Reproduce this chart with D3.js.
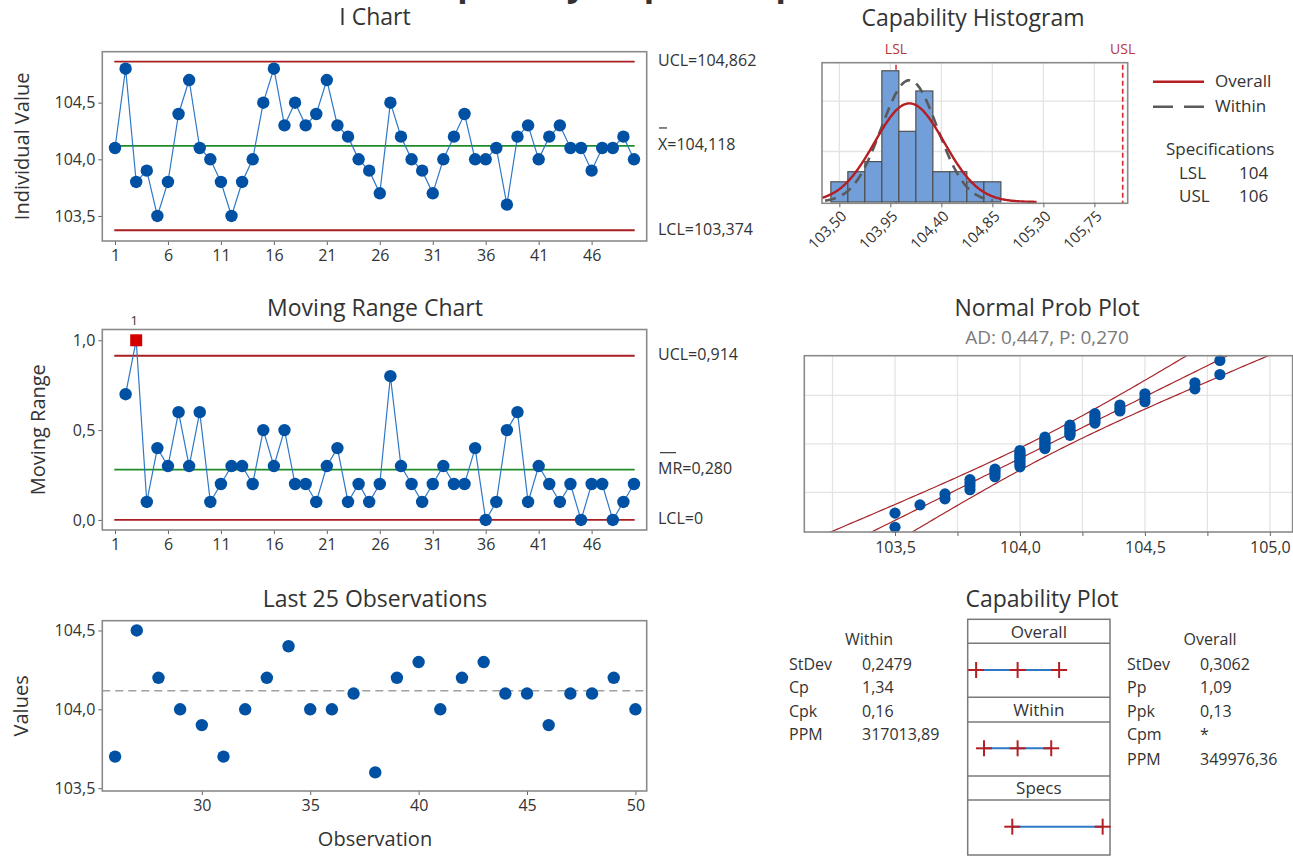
<!DOCTYPE html>
<html>
<head>
<meta charset="utf-8">
<script src="https://cdn.jsdelivr.net/npm/d3@7"></script>
<style>
  body { margin: 0; background: #fff; }
  text { font-family: "Open Sans", "Noto Sans", sans-serif; fill: #333; }
</style>
</head>
<body>
<svg id="chart" width="1293" height="857"></svg>
<script>
// ---- data ----
const individuals = [104.1, 104.8, 103.8, 103.9, 103.5, 103.8, 104.4, 104.7, 104.1, 104.0,
                     103.8, 103.5, 103.8, 104.0, 104.5, 104.8, 104.3, 104.5, 104.3, 104.4,
                     104.7, 104.3, 104.2, 104.0, 103.9, 103.7, 104.5, 104.2, 104.0, 103.9,
                     103.7, 104.0, 104.2, 104.4, 104.0, 104.0, 104.1, 103.6, 104.2, 104.3,
                     104.0, 104.2, 104.3, 104.1, 104.1, 103.9, 104.1, 104.1, 104.2, 104.0];
const movingRanges = [0.7, 1.0, 0.1, 0.4, 0.3, 0.6, 0.3, 0.6, 0.1,
                      0.2, 0.3, 0.3, 0.2, 0.5, 0.3, 0.5, 0.2, 0.2, 0.1,
                      0.3, 0.4, 0.1, 0.2, 0.1, 0.2, 0.8, 0.3, 0.2, 0.1,
                      0.2, 0.3, 0.2, 0.2, 0.4, 0.0, 0.1, 0.5, 0.6, 0.1,
                      0.3, 0.2, 0.1, 0.2, 0.0, 0.2, 0.2, 0.0, 0.1, 0.2];
const obsTicks = [1, 6, 11, 16, 21, 26, 31, 36, 41, 46];
const lastTicks = [30, 35, 40, 45, 50];
const iYTicks = [103.5, 104.0, 104.5];
const mrYTicks = [0.0, 0.5, 1.0];

const iLimits = { ucl: 104.862, center: 104.118, lcl: 103.374 };
const mrLimits = { ucl: 0.914, center: 0.280, lcl: 0 };

const binMids = [103.50, 103.65, 103.80, 103.95, 104.10, 104.25, 104.40, 104.55, 104.70, 104.85];
const binCounts = [2, 3, 4, 13, 7, 11, 3, 3, 2, 2];
const binWidth = 0.15;
const histTicks = [103.50, 103.95, 104.40, 104.85, 105.30, 105.75];
const histGridY = [5, 10];

const specLSL = 104, specUSL = 106;
const sdWithin = 0.2479, sdOverall = 0.3062, processMean = 104.118;

const probTicks = [103.5, 104.0, 104.5, 105.0];
const probGridX = [103.25, 103.5, 103.75, 104.0, 104.25, 104.5, 104.75, 105.0];
const probGridPct = [10, 50, 90];

const withinStats = [["StDev", "0,2479"], ["Cp", "1,34"], ["Cpk", "0,16"], ["PPM", "317013,89"]];
const overallStats = [["StDev", "0,3062"], ["Pp", "1,09"], ["Ppk", "0,13"], ["Cpm", "*"], ["PPM", "349976,36"]];

// ---- helpers ----
const svg = d3.select("#chart");
const loc = d3.formatLocale({ decimal: ",", thousands: ".", grouping: [3], currency: ["", ""] });
const f1 = loc.format(".1f"), f2 = loc.format(".2f"), f3 = loc.format(".3f");

const FS = { title: 23, tick: 16, axis: 20, note: 16, legend: 17 };
const C = {
  frame: "#8a8a8a", red: "#a81e22", green: "#1e8c28", line: "#2f78c8",
  dot: "#0051a3", grid: "#e4e4e4", bar: "#729fd9", barEdge: "#505050",
  spec: "#d9272e", gray: "#5a5a5a"
};

function title(x, y, s) {
  svg.append("text").attr("x", x).attr("y", y).attr("text-anchor", "middle")
    .attr("dominant-baseline", "middle").attr("font-size", FS.title).text(s);
}
function frame(x0, y0, x1, y1) {
  svg.append("rect").attr("x", x0).attr("y", y0).attr("width", x1 - x0).attr("height", y1 - y0)
    .attr("fill", "none").attr("stroke", C.frame).attr("stroke-width", 1.6);
}
function styleAxis(g, size) {
  g.select(".domain").remove();
  g.selectAll(".tick line").attr("stroke", "#666");
  g.selectAll(".tick text").attr("font-size", size || FS.tick).attr("fill", "#333")
    .style("font-family", '"Open Sans","Noto Sans",sans-serif');
}
function yTitle(x, y, s) {
  svg.append("text").attr("transform", `translate(${x},${y}) rotate(-90)`)
    .attr("text-anchor", "middle").attr("dominant-baseline", "middle")
    .attr("font-size", FS.axis).attr("fill", "#444").text(s);
}
function hline(x0, x1, y, color, w, dash) {
  svg.append("line").attr("x1", x0).attr("x2", x1).attr("y1", y).attr("y2", y)
    .attr("stroke", color).attr("stroke-width", w).attr("stroke-dasharray", dash || null);
}
function label(x, y, s, size) {
  return svg.append("text").attr("x", x).attr("y", y).attr("dominant-baseline", "middle")
    .attr("font-size", size || FS.note).text(s);
}
function normPdf(x, m, s) {
  return Math.exp(-0.5 * ((x - m) / s) ** 2) / (s * Math.sqrt(2 * Math.PI));
}
function qnorm(p) {
  const a = [-3.969683028665376e+01, 2.209460984245205e+02, -2.759285104469687e+02, 1.383577518672690e+02, -3.066479806614716e+01, 2.506628277459239e+00];
  const b = [-5.447609879822406e+01, 1.615858368580409e+02, -1.556989798598866e+02, 6.680131188771972e+01, -1.328068155288572e+01];
  const c = [-7.784894002430293e-03, -3.223964580411365e-01, -2.400758277161838e+00, -2.549732539343734e+00, 4.374664141464968e+00, 2.938163982698783e+00];
  const d = [7.784695709041462e-03, 3.224671290700398e-01, 2.445134137142996e+00, 3.754408661907416e+00];
  const pl = 0.02425;
  let q, r;
  if (p < pl) {
    q = Math.sqrt(-2 * Math.log(p));
    return (((((c[0]*q+c[1])*q+c[2])*q+c[3])*q+c[4])*q+c[5]) / ((((d[0]*q+d[1])*q+d[2])*q+d[3])*q+1);
  }
  if (p <= 1 - pl) {
    q = p - 0.5; r = q * q;
    return (((((a[0]*r+a[1])*r+a[2])*r+a[3])*r+a[4])*r+a[5])*q / (((((b[0]*r+b[1])*r+b[2])*r+b[3])*r+b[4])*r+1);
  }
  q = Math.sqrt(-2 * Math.log(1 - p));
  return -(((((c[0]*q+c[1])*q+c[2])*q+c[3])*q+c[4])*q+c[5]) / ((((d[0]*q+d[1])*q+d[2])*q+d[3])*q+1);
}

// ---- report heading, running off the top edge of the page ----
svg.append("text").attr("x", 277).attr("y", -4).attr("text-anchor", "start")
  .attr("font-size", 34).attr("font-weight", "bold").attr("fill", "#222")
  .text("Process Capability Sixpack Report");

// ---- I chart ----
const L = { x0: 102.3, x1: 646.7 };
const xObs = d3.scaleLinear().domain([-0.2, 51.2]).range([L.x0, L.x1]);
const I = { y0: 51.7, y1: 241 };
const yI = d3.scaleLinear().domain([103.279, 104.95]).range([I.y1, I.y0]);

title(375, 19, "I Chart");
svg.append("g").attr("transform", `translate(${L.x0},0)`)
  .call(d3.axisLeft(yI).tickValues(iYTicks).tickSize(4).tickPadding(3).tickFormat(f1)).call(styleAxis);
svg.append("g").attr("transform", `translate(0,${I.y1})`)
  .call(d3.axisBottom(xObs).tickValues(obsTicks).tickSize(4).tickPadding(5)).call(styleAxis);
yTitle(24, (I.y0 + I.y1) / 2, "Individual Value");

hline(xObs(-0.2) + 12, xObs(51.2) - 12, yI(iLimits.ucl), C.red, 1.8);
hline(xObs(-0.2) + 12, xObs(51.2) - 12, yI(iLimits.lcl), C.red, 1.8);
hline(xObs(-0.2) + 12, xObs(51.2) - 12, yI(iLimits.center), C.green, 1.8);

svg.append("path").datum(individuals)
  .attr("d", d3.line().x((d, i) => xObs(i + 1)).y(d => yI(d)))
  .attr("fill", "none").attr("stroke", C.line).attr("stroke-width", 1.2);
svg.append("g").selectAll("circle").data(individuals).join("circle")
  .attr("cx", (d, i) => xObs(i + 1)).attr("cy", d => yI(d)).attr("r", 6.2).attr("fill", C.dot);
frame(L.x0, I.y0, L.x1, I.y1);

label(658, yI(iLimits.ucl), "UCL=" + f3(iLimits.ucl));
label(658, yI(iLimits.center), "X=" + f3(iLimits.center));
hline(659, 667, yI(iLimits.center) - 18, "#444", 1.3);
label(658, yI(iLimits.lcl), "LCL=" + f3(iLimits.lcl));

// ---- Moving range chart ----
const M = { y0: 329.5, y1: 530 };
const yMR = d3.scaleLinear().domain([-0.056, 1.06]).range([M.y1, M.y0]);

title(375, 310, "Moving Range Chart");
svg.append("g").attr("transform", `translate(${L.x0},0)`)
  .call(d3.axisLeft(yMR).tickValues(mrYTicks).tickSize(4).tickPadding(3).tickFormat(f1)).call(styleAxis);
svg.append("g").attr("transform", `translate(0,${M.y1})`)
  .call(d3.axisBottom(xObs).tickValues(obsTicks).tickSize(4).tickPadding(5)).call(styleAxis);
yTitle(40, (M.y0 + M.y1) / 2, "Moving Range");

hline(xObs(-0.2) + 12, xObs(51.2) - 12, yMR(mrLimits.ucl), C.red, 1.8);
hline(xObs(-0.2) + 12, xObs(51.2) - 12, yMR(mrLimits.lcl), C.red, 1.8);
hline(xObs(-0.2) + 12, xObs(51.2) - 12, yMR(mrLimits.center), C.green, 1.8);

svg.append("path").datum(movingRanges)
  .attr("d", d3.line().x((d, i) => xObs(i + 2)).y(d => yMR(d)))
  .attr("fill", "none").attr("stroke", C.line).attr("stroke-width", 1.2);
const mrPts = movingRanges.map((v, i) => ({ n: i + 2, v, out: v > mrLimits.ucl }));
svg.append("g").selectAll("circle").data(mrPts.filter(d => !d.out)).join("circle")
  .attr("cx", d => xObs(d.n)).attr("cy", d => yMR(d.v)).attr("r", 6.2).attr("fill", C.dot);
const outG = svg.append("g").selectAll("g").data(mrPts.filter(d => d.out)).join("g");
outG.append("rect").attr("x", d => xObs(d.n) - 6).attr("y", d => yMR(d.v) - 6)
  .attr("width", 12).attr("height", 12).attr("fill", "#d40000");
outG.append("text").attr("x", d => xObs(d.n) - 2).attr("y", d => yMR(d.v) - 19)
  .attr("text-anchor", "middle").attr("dominant-baseline", "middle").attr("font-size", 13).text("1");
frame(L.x0, M.y0, L.x1, M.y1);

label(658, yMR(mrLimits.ucl), "UCL=" + f3(mrLimits.ucl));
label(658, yMR(mrLimits.center), "MR=" + f3(mrLimits.center));
hline(660, 676, yMR(mrLimits.center) - 17, "#444", 1.3);
label(658, yMR(mrLimits.lcl), "LCL=0");

// ---- Last 25 observations ----
const T = { y0: 620.7, y1: 791 };
const xLast = d3.scaleLinear().domain([25.41, 50.52]).range([L.x0, L.x1]);
const yLast = d3.scaleLinear().domain([103.482, 104.562]).range([T.y1, T.y0]);
const last25 = individuals.slice(-25).map((v, i) => ({ n: individuals.length - 25 + i + 1, v }));

title(375, 601, "Last 25 Observations");
svg.append("g").attr("transform", `translate(${L.x0},0)`)
  .call(d3.axisLeft(yLast).tickValues(iYTicks).tickSize(4).tickPadding(3).tickFormat(f1)).call(styleAxis);
svg.append("g").attr("transform", `translate(0,${T.y1})`)
  .call(d3.axisBottom(xLast).tickValues(lastTicks).tickSize(4).tickPadding(5)).call(styleAxis);
yTitle(23, (T.y0 + T.y1) / 2, "Values");
svg.append("text").attr("x", 375).attr("y", 841).attr("text-anchor", "middle")
  .attr("dominant-baseline", "middle").attr("font-size", FS.axis).attr("fill", "#444").text("Observation");

hline(L.x0, L.x1, yLast(processMean), "#a0a0a0", 1.6, "8,5");
svg.append("g").selectAll("circle").data(last25).join("circle")
  .attr("cx", d => xLast(d.n)).attr("cy", d => yLast(d.v)).attr("r", 6.2).attr("fill", C.dot);
frame(L.x0, T.y0, L.x1, T.y1);

// ---- Capability histogram ----
const H = { x0: 822, x1: 1127.7, y0: 62.7, y1: 203.3 };
const hx = d3.scaleLinear().domain([103.347, 106.044]).range([H.x0, H.x1]);
const hy = d3.scaleLinear().domain([-0.13, 13.8]).range([H.y1, H.y0]);
title(973, 20, "Capability Histogram");

svg.append("defs").append("clipPath").attr("id", "histClip")
  .append("rect").attr("x", H.x0).attr("y", H.y0).attr("width", H.x1 - H.x0).attr("height", H.y1 - H.y0);

svg.append("g").selectAll("line").data(histTicks).join("line")
  .attr("x1", d => hx(d)).attr("x2", d => hx(d)).attr("y1", H.y0).attr("y2", H.y1)
  .attr("stroke", C.grid).attr("stroke-width", 1.3);
svg.append("g").selectAll("line").data(histGridY).join("line")
  .attr("x1", H.x0).attr("x2", H.x1).attr("y1", d => hy(d)).attr("y2", d => hy(d))
  .attr("stroke", C.grid).attr("stroke-width", 1.3);

// lower spec line sits behind the bars
svg.append("line").attr("x1", hx(specLSL)).attr("x2", hx(specLSL)).attr("y1", H.y0 + 2).attr("y2", H.y1)
  .attr("stroke", C.spec).attr("stroke-width", 1.5).attr("stroke-dasharray", "5,3");

svg.append("g").selectAll("rect").data(binMids).join("rect")
  .attr("x", d => hx(d - binWidth / 2)).attr("width", d => hx(d + binWidth / 2) - hx(d - binWidth / 2))
  .attr("y", (d, i) => hy(binCounts[i])).attr("height", (d, i) => hy(0) - hy(binCounts[i]))
  .attr("fill", C.bar).attr("stroke", C.barEdge).attr("stroke-width", 1.2);

const nObs = individuals.length;
const densityLine = d3.line().x(d => hx(d[0])).y(d => hy(d[1])).curve(d3.curveBasis);
const withinPts = d3.range(processMean - 3 * sdWithin, processMean + 3 * sdWithin + 1e-9, 0.01)
  .map(x => [x, nObs * binWidth * normPdf(x, processMean, sdWithin)]);
const overallPts = d3.range(103.2, 105.25, 0.01)
  .map(x => [x, nObs * binWidth * normPdf(x, processMean, sdOverall)]);
svg.append("path").datum(withinPts).attr("d", densityLine).attr("clip-path", "url(#histClip)")
  .attr("fill", "none").attr("stroke", C.gray).attr("stroke-width", 2.6).attr("stroke-dasharray", "11,7");
svg.append("path").datum(overallPts).attr("d", densityLine).attr("clip-path", "url(#histClip)")
  .attr("fill", "none").attr("stroke", "#b51f24").attr("stroke-width", 2.4);

svg.append("line").attr("x1", hx(specUSL)).attr("x2", hx(specUSL)).attr("y1", H.y0 + 2).attr("y2", H.y1)
  .attr("stroke", C.spec).attr("stroke-width", 1.6).attr("stroke-dasharray", "5,3");
frame(H.x0, H.y0, H.x1, H.y1);

svg.append("text").attr("x", hx(specLSL)).attr("y", 50).attr("text-anchor", "middle")
  .attr("dominant-baseline", "middle").attr("font-size", 14).style("fill", "#b5373b").text("LSL");
svg.append("text").attr("x", hx(specUSL)).attr("y", 50).attr("text-anchor", "middle")
  .attr("dominant-baseline", "middle").attr("font-size", 14).style("fill", "#b5373b").text("USL");

const hAxis = svg.append("g").attr("transform", `translate(0,${H.y1})`)
  .call(d3.axisBottom(hx).tickValues(histTicks).tickSize(4).tickFormat(f2)).call(styleAxis, 15);
hAxis.selectAll(".tick text").attr("text-anchor", "end").attr("dy", null)
  .attr("transform", "translate(5,11) rotate(-45)").attr("y", 0).attr("x", 0)
  .attr("dominant-baseline", "middle");

// legend
hline(1153, 1204, 81.7, "#b51f24", 2.6);
label(1215, 82, "Overall", FS.legend);
hline(1153, 1204, 106.7, C.gray, 2.6, "20,11");
label(1215, 107, "Within", FS.legend);
label(1166, 150, "Specifications", FS.legend);
label(1179, 174, "LSL", FS.legend);
label(1239, 174, String(specLSL), FS.legend);
label(1179, 197, "USL", FS.legend);
label(1239, 197, String(specUSL), FS.legend);

// ---- Normal probability plot ----
const P = { x0: 804.3, x1: 1292.6, y0: 355.7, y1: 532 };
const px = d3.scaleLinear().domain([103.137, 105.091]).range([P.x0, P.x1]);
const pz = d3.scaleLinear().domain([qnorm(0.01), qnorm(0.99)]).range([P.y1, P.y0]);
const py = pct => pz(qnorm(pct / 100));

title(1047, 310, "Normal Prob Plot");
svg.append("text").attr("x", 1047).attr("y", 339).attr("text-anchor", "middle")
  .attr("dominant-baseline", "middle").attr("font-size", 19).style("fill", "#7a7a7a")
  .text("AD: 0,447, P: 0,270");

svg.append("defs").append("clipPath").attr("id", "probClip")
  .append("rect").attr("x", P.x0).attr("y", P.y0).attr("width", P.x1 - P.x0).attr("height", P.y1 - P.y0);

svg.append("g").selectAll("line").data(probGridX).join("line")
  .attr("x1", d => px(d)).attr("x2", d => px(d)).attr("y1", P.y0).attr("y2", P.y1)
  .attr("stroke", C.grid).attr("stroke-width", 1.3);
svg.append("g").selectAll("line").data(probGridPct).join("line")
  .attr("x1", P.x0).attr("x2", P.x1).attr("y1", d => py(d)).attr("y2", d => py(d))
  .attr("stroke", C.grid).attr("stroke-width", 1.3);

// fitted line with 95% confidence band
const zs = d3.range(-2.8, 2.81, 0.05);
const band = k => zs.map(z => [processMean + sdOverall * z + k * 1.96 * sdOverall * Math.sqrt((1 + z * z / 2) / nObs), z]);
const bandLine = d3.line().x(d => px(d[0])).y(d => pz(d[1]));
[-1, 0, 1].forEach(k => {
  svg.append("path").datum(band(k)).attr("d", bandLine).attr("clip-path", "url(#probClip)")
    .attr("fill", "none").attr("stroke", "#a52428").attr("stroke-width", 1.2);
});

const sorted = individuals.slice().sort(d3.ascending);
svg.append("g").selectAll("circle").data(sorted).join("circle")
  .attr("cx", d => px(d)).attr("cy", (d, i) => pz(qnorm((i + 1 - 0.3) / (nObs + 0.4))))
  .attr("r", 5.6).attr("fill", C.dot);
frame(P.x0, P.y0, P.x1, P.y1);

svg.append("g").attr("transform", `translate(0,${P.y1})`)
  .call(d3.axisBottom(px).tickValues(probGridX.filter(v => v > 103.3)).tickSize(4).tickPadding(6)
    .tickFormat(v => probTicks.includes(v) ? f1(v) : "")).call(styleAxis);

// ---- Capability plot ----
const B = { x0: 967.7, x1: 1110, y0: 619.3, y1: 855 };
const cx = d3.scaleLinear().domain([103, 106.2]).range([967.1, 1111.7]);
title(1042, 601, "Capability Plot");

svg.append("rect").attr("x", B.x0).attr("y", B.y0).attr("width", B.x1 - B.x0).attr("height", B.y1 - B.y0)
  .attr("fill", "none").attr("stroke", "#7a7a7a").attr("stroke-width", 1.5);
[643.3, 697.3, 722, 776, 800].forEach(y => hline(B.x0, B.x1, y, "#7a7a7a", 1.5));
[["Overall", 633], ["Within", 711], ["Specs", 789]].forEach(([s, y]) => {
  svg.append("text").attr("x", (B.x0 + B.x1) / 2).attr("y", y).attr("text-anchor", "middle")
    .attr("dominant-baseline", "middle").attr("font-size", FS.legend).text(s);
});

const capRows = [
  { y: 670, pts: [processMean - 3 * sdOverall, processMean, processMean + 3 * sdOverall] },
  { y: 748.3, pts: [processMean - 3 * sdWithin, processMean, processMean + 3 * sdWithin] },
  { y: 826.7, pts: [specLSL, specUSL] }
];
capRows.forEach(r => {
  hline(cx(r.pts[0]), cx(r.pts[r.pts.length - 1]), r.y, "#2f78c8", 2);
  r.pts.forEach(v => {
    svg.append("line").attr("x1", cx(v)).attr("x2", cx(v)).attr("y1", r.y - 8).attr("y2", r.y + 8)
      .attr("stroke", "#b51f24").attr("stroke-width", 2);
    hline(cx(v) - 8, cx(v) + 8, r.y, "#b51f24", 2);
  });
});

// statistics tables
const rowY = [666, 689, 713, 736, 761];
svg.append("text").attr("x", 869).attr("y", 641).attr("text-anchor", "middle")
  .attr("dominant-baseline", "middle").attr("font-size", FS.note).text("Within");
withinStats.forEach((r, i) => { label(789, rowY[i], r[0]); label(862, rowY[i], r[1]); });
svg.append("text").attr("x", 1210).attr("y", 641).attr("text-anchor", "middle")
  .attr("dominant-baseline", "middle").attr("font-size", FS.note).text("Overall");
overallStats.forEach((r, i) => { label(1127, rowY[i], r[0]); label(1200, rowY[i], r[1]); });
</script>
</body>
</html>
